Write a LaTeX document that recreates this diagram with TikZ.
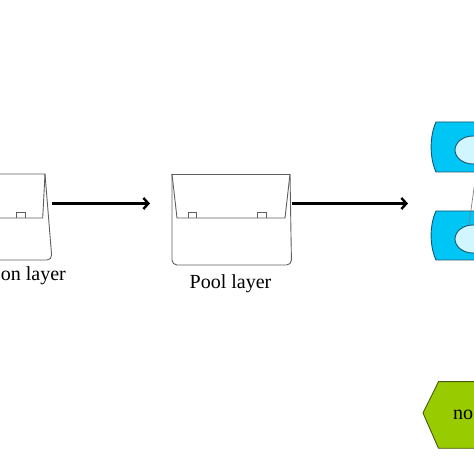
\documentclass[tikz,border=0pt]{standalone}
\usepackage{fontspec}
\setmainfont{Liberation Serif}
\usepackage{tikz}
\usetikzlibrary{arrows.meta}
\usetikzlibrary{shapes.geometric}

\definecolor{unitblue}{RGB}{0,198,245}
\definecolor{unitedge}{RGB}{25,85,110}
\definecolor{unitcore}{RGB}{210,246,255}
\definecolor{outgreen}{RGB}{153,204,0}
\definecolor{outedge}{RGB}{70,90,20}
\definecolor{boxgray}{RGB}{95,95,95}

\tikzset{
    flow/.style={line width=2.4pt, -{Straight Barb[length=5pt,width=11pt]}},
    layer/.style={draw=boxgray, line width=0.9pt},
    frame/.style={inner sep=0pt, outer sep=0pt},
    unit/.style={draw=unitedge, fill=unitblue, line width=0.9pt},
    core/.style={shape=ellipse, draw=unitedge, fill=unitcore, line width=0.9pt,
        minimum width=36pt, minimum height=28pt, inner sep=0pt}}

\begin{document}
\begin{tikzpicture}[x=1pt, y=1pt, font=\fontsize{20}{24}\selectfont]

            \clip (0,0) rectangle (474,474);

            % invisible frames of the two layers and of the dense units
            \node[frame, minimum width=120pt, minimum height=86pt] (conv) at (-8,257) {};
            \node[frame, minimum width=119.5pt, minimum height=91pt] (pool) at (231.75,254.5) {};
            \node[frame, minimum width=89pt, minimum height=138pt] (dense) at (475.5,283) {};

            % convolution layer
            \draw[layer] (-80,300) -- (45,300) -- (42.7,256) -- (-80,256);
            \draw[layer] (45,300) [rounded corners=5pt] -- (52,214) -- (-80,214);
            \draw[layer] (16,256) -- (16,262) -- (25,262) -- (25,256);
            \node[anchor=base east, inner sep=1pt] (convlabel) at (67,193) {on layer};

            % pool layer
            \draw[layer] (172,300) -- (290,300);
            \draw[layer] (172,300) -- (177,256) -- (285,256) -- (290,300);
            \draw[layer, rounded corners=5pt] (172,300) -- (172,209) -- (291.5,209) -- (290,300);
            \draw[layer] (188,256) -- (188,262) -- (196.5,262) -- (196.5,256);
            \draw[layer] (257,256) -- (257,262) -- (266,262) -- (266,256);
            \node[anchor=base] (poollabel) at (230.5,185) {Pool layer};

            % dense units
            \draw[unit] (480,352) -- (436,352) .. controls (429.5,338) and (429.5,316) .. (436,302) -- (480,302) -- cycle;
            \draw[unit] (480,263) -- (436,263) .. controls (429.5,249) and (429.5,228) .. (436,214) -- (480,214) -- cycle;
            \node[core] (n1) at (473,324) {};
            \node[core] (n2) at (473,235) {};
            \coordinate (up) at (478,315);
            \draw[gray, line width=0.7pt] (n2.106) -- (up);

            % output
            \draw[draw=outedge, fill=outgreen, line width=0.9pt]
                (423,61) -- (438.5,92.3) -- (520,92.3) -- (520,25.7) -- (438.5,25.7) -- cycle;
            \node[anchor=base west, inner sep=1pt] (out) at (452,54) {no};

            \draw[flow, shorten >=22pt] ([yshift=13.5pt]conv.east) -- ([yshift=16pt]pool.west);
            \draw[flow, shorten >=23pt] ([yshift=16pt]pool.east) -- ([yshift=-12.5pt]dense.west);

\end{tikzpicture}
\end{document}
